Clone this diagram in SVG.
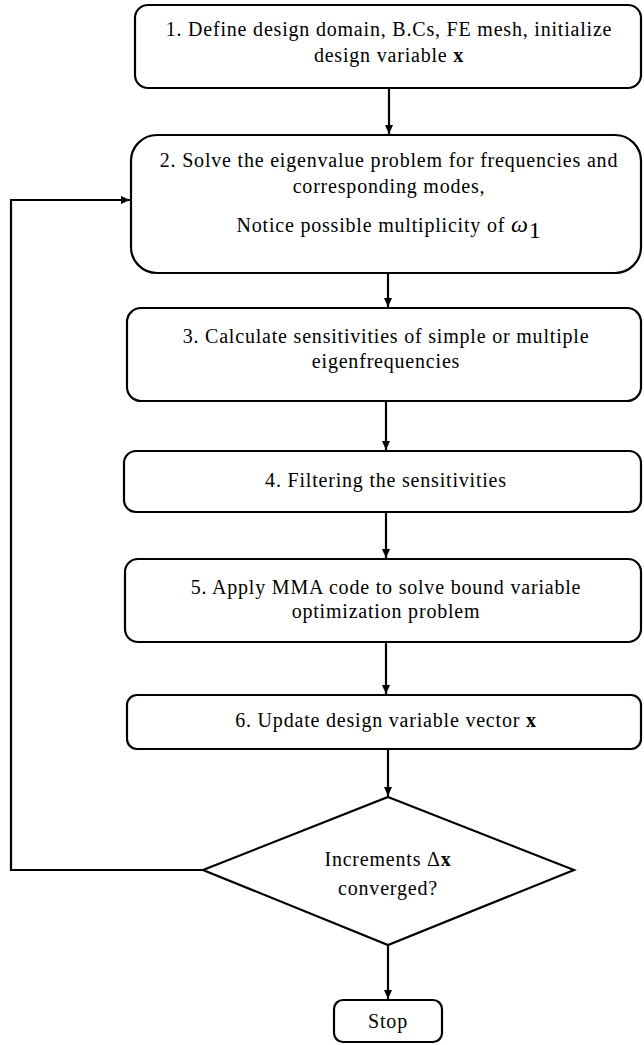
<svg xmlns="http://www.w3.org/2000/svg" width="644" height="1045" viewBox="0 0 644 1045">
<style>
.box{fill:#fff;stroke:#000;stroke-width:2.2}
.t{font-family:'Liberation Serif','Times New Roman','DejaVu Serif',serif;font-size:20px;letter-spacing:0.8px;fill:#000;text-anchor:middle}
.b{font-weight:bold}
.c{fill:none;stroke:#000;stroke-width:2.2}
</style>
<defs>
<marker id="ah" markerWidth="10" markerHeight="10" refX="9" refY="5" orient="auto" markerUnits="userSpaceOnUse">
<path d="M0,1 L9,5 L0,9 Z" fill="#000"/>
</marker>
</defs>
<rect width="644" height="1045" fill="#fff"/>
<g id="connectors">
<line class="c" x1="389" y1="88" x2="389" y2="134" marker-end="url(#ah)"/>
<line class="c" x1="388" y1="273" x2="388" y2="307" marker-end="url(#ah)"/>
<line class="c" x1="386" y1="401" x2="386" y2="450" marker-end="url(#ah)"/>
<line class="c" x1="386" y1="512" x2="386" y2="558" marker-end="url(#ah)"/>
<line class="c" x1="386" y1="642" x2="386" y2="694" marker-end="url(#ah)"/>
<line class="c" x1="388" y1="749" x2="388" y2="796" marker-end="url(#ah)"/>
<line class="c" x1="388" y1="945" x2="388" y2="999" marker-end="url(#ah)"/>
<polyline class="c" points="203,870 11,870 11,200 130,200" marker-end="url(#ah)"/>
</g>
<g id="n1">
<rect class="box" x="135" y="5" width="506" height="83" rx="13"/>
<text class="t" x="389" y="36">1. Define design domain, B.Cs, FE mesh, initialize</text>
<text class="t" x="389" y="62">design variable <tspan class="b">x</tspan></text>
</g>
<g id="n2">
<rect class="box" x="131" y="135" width="510" height="138" rx="26"/>
<text class="t" x="389" y="167">2. Solve the eigenvalue problem for frequencies and</text>
<text class="t" x="389" y="193">corresponding modes,</text>
<text class="t" x="389" y="232">Notice possible multiplicity of <tspan font-style="italic" font-size="24">ω</tspan><tspan font-size="24" dy="6">1</tspan></text>
</g>
<g id="n3">
<rect class="box" x="127" y="308" width="514" height="93" rx="14"/>
<text class="t" x="386" y="343">3. Calculate sensitivities of simple or multiple</text>
<text class="t" x="386" y="368">eigenfrequencies</text>
</g>
<g id="n4">
<rect class="box" x="124" y="451" width="517" height="61" rx="12"/>
<text class="t" x="386" y="487">4. Filtering the sensitivities</text>
</g>
<g id="n5">
<rect class="box" x="125" y="559" width="516" height="83" rx="13"/>
<text class="t" x="386" y="594">5. Apply MMA code to solve bound variable</text>
<text class="t" x="386" y="618">optimization problem</text>
</g>
<g id="n6">
<rect class="box" x="127" y="695" width="514" height="54" rx="10"/>
<text class="t" x="386" y="727">6. Update design variable vector <tspan class="b">x</tspan></text>
</g>
<g id="n7">
<polygon class="box" points="388,797 574,870 388,945 203,870"/>
<text class="t" x="388" y="866">Increments Δ<tspan class="b">x</tspan></text>
<text class="t" x="388" y="895">converged?</text>
</g>
<g id="n8">
<rect class="box" x="334" y="1000" width="108" height="42" rx="9"/>
<text class="t" x="388" y="1028">Stop</text>
</g>
</svg>
